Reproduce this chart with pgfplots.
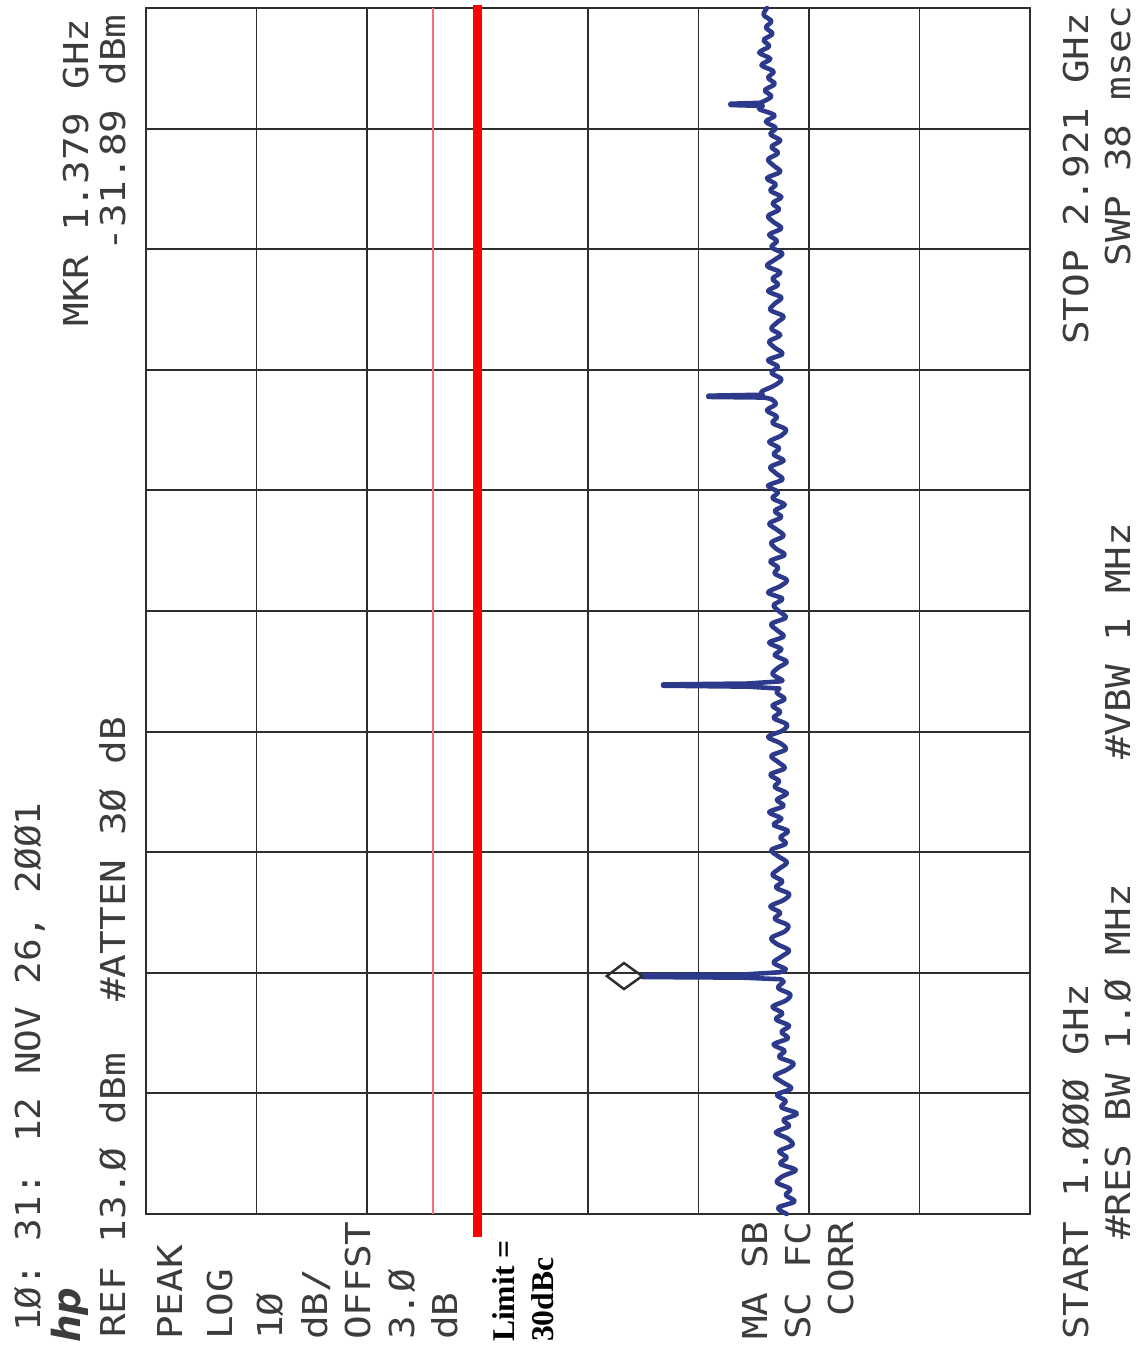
\documentclass[border=0pt]{standalone}
\usepackage{pgfplots}
\pgfplotsset{compat=1.18}
\usepackage{fontspec}
\setmainfont{DejaVu Sans}
\newfontfamily\scr[FakeStretch=1.15]{DejaVu Sans Mono}
\newfontfamily\scrn[FakeStretch=1.10]{DejaVu Sans Mono}
\newfontfamily\tnr{Liberation Serif}

\definecolor{gridc}{HTML}{2E2E2E}
\definecolor{inkc}{HTML}{3C3C3C}
\definecolor{tracec}{HTML}{2D3A8C}
\definecolor{dline}{HTML}{F07080}

\begin{document}
\begin{tikzpicture}
\useasboundingbox (0,0) rectangle (22.76cm,-26.92cm);
\begin{axis}[
  at={(2.92cm,-24.28cm)}, anchor=south west,
  width=17.68cm, height=24.12cm, scale only axis,
  xmin=-67, xmax=13, x dir=reverse,
  ymin=1.0, ymax=2.921,
  xtick={-67,-57,-47,-37,-27,-17,-7,3,13},
  ytick={1.0,1.1921,1.3842,1.5763,1.7684,1.9605,2.1526,2.3447,2.5368,2.7289,2.921},
  xticklabels={}, yticklabels={},
  major tick length=0pt,
  grid=major,
  major grid style={draw=gridc, line width=1.1pt},
  axis line style={draw=gridc, line width=1.5pt},
  clip=false,
  trace/.style={tracec, line width=2.6pt, line join=round, line cap=round},
]
  % display line
  \addplot[dline, line width=1.1pt] coordinates {(-13,1.0) (-13,2.921)};
  % limit line, 30 dB below reference
  \addplot[red, line width=4.6pt] coordinates {(-17,0.963) (-17,2.926)};
  % trace: noise segments
  \addplot[trace, smooth, tension=0.55] coordinates {
    (-45.0,1.00) (-44.2,1.01) (-45.7,1.02) (-44.9,1.03) (-45.3,1.04)
    (-44.1,1.05) (-44.6,1.06) (-45.8,1.07) (-44.4,1.08) (-45.0,1.09)
    (-44.3,1.10) (-45.5,1.11) (-45.1,1.12) (-44.0,1.13) (-45.2,1.14)
    (-44.7,1.15) (-45.9,1.16) (-44.5,1.17) (-44.9,1.18) (-44.1,1.19)
    (-45.4,1.20) (-44.6,1.21) (-43.9,1.22) (-45.0,1.23) (-45.6,1.24)
    (-44.3,1.25) (-44.8,1.26) (-43.8,1.27) (-45.1,1.28) (-44.5,1.29)
    (-45.2,1.30) (-44.0,1.31) (-44.6,1.32) (-43.7,1.33) (-44.9,1.34)
    (-45.3,1.35) (-44.2,1.36) (-44.7,1.37) (-44.4,1.374)
  };
  \addplot[trace, smooth, tension=0.55] coordinates {
    (-44.3,1.385) (-44.9,1.39) (-43.8,1.40) (-44.5,1.41) (-45.2,1.42)
    (-44.1,1.43) (-43.6,1.44) (-44.8,1.45) (-45.1,1.46) (-43.9,1.47)
    (-44.4,1.48) (-43.5,1.49) (-44.7,1.50) (-45.2,1.51) (-44.0,1.52)
    (-44.6,1.53) (-43.7,1.54) (-44.3,1.55) (-45.0,1.56) (-44.2,1.57)
    (-43.6,1.58) (-44.9,1.59) (-44.4,1.60) (-45.1,1.61) (-43.8,1.62)
    (-44.5,1.63) (-43.4,1.64) (-44.7,1.65) (-44.1,1.66) (-45.0,1.67)
    (-43.9,1.68) (-44.3,1.69) (-43.5,1.70) (-44.8,1.71) (-44.2,1.72)
    (-43.6,1.73) (-44.9,1.74) (-44.4,1.75) (-43.3,1.76) (-44.6,1.77)
    (-45.0,1.78) (-43.8,1.79) (-44.4,1.80) (-43.7,1.81) (-44.8,1.82)
    (-44.1,1.83) (-44.3,1.837)
  };
  \addplot[trace, smooth, tension=0.55] coordinates {
    (-44.0,1.848) (-44.6,1.85) (-43.7,1.86) (-44.2,1.87) (-45.0,1.88)
    (-43.9,1.89) (-44.5,1.90) (-43.4,1.91) (-44.7,1.92) (-44.1,1.93)
    (-43.6,1.94) (-44.9,1.95) (-44.3,1.96) (-43.8,1.97) (-44.6,1.98)
    (-43.3,1.99) (-44.4,2.00) (-45.0,2.01) (-43.9,2.02) (-44.2,2.03)
    (-43.5,2.04) (-44.8,2.05) (-44.0,2.06) (-43.6,2.07) (-44.7,2.08)
    (-44.1,2.09) (-43.4,2.10) (-44.5,2.11) (-43.9,2.12) (-44.8,2.13)
    (-43.7,2.14) (-44.2,2.15) (-43.3,2.16) (-44.6,2.17) (-44.0,2.18)
    (-43.5,2.19) (-44.7,2.20) (-43.8,2.21) (-44.3,2.22) (-43.4,2.23)
    (-44.5,2.24) (-44.9,2.25) (-43.7,2.26) (-44.1,2.27) (-43.2,2.28)
    (-44.0,2.29) (-43.6,2.298)
  };
  \addplot[trace, smooth, tension=0.55] coordinates {
    (-42.8,2.305) (-42.7,2.31) (-43.9,2.32) (-44.5,2.33) (-43.6,2.34)
    (-44.2,2.35) (-43.3,2.36) (-44.6,2.37) (-43.9,2.38) (-43.4,2.39)
    (-44.4,2.40) (-43.6,2.41) (-44.1,2.42) (-44.7,2.43) (-43.5,2.44)
    (-43.9,2.45) (-44.5,2.46) (-43.3,2.47) (-44.2,2.48) (-43.7,2.49)
    (-44.4,2.50) (-43.2,2.51) (-43.9,2.52) (-44.6,2.53) (-43.6,2.54)
    (-44.1,2.55) (-43.4,2.56) (-44.5,2.57) (-43.8,2.58) (-43.3,2.59)
    (-44.3,2.60) (-43.7,2.61) (-44.5,2.62) (-43.5,2.63) (-44.0,2.64)
    (-43.2,2.65) (-44.4,2.66) (-43.8,2.67) (-43.3,2.68) (-44.2,2.69)
    (-43.6,2.70) (-44.4,2.71) (-43.5,2.72) (-44.0,2.73) (-43.1,2.74)
    (-43.9,2.75) (-42.5,2.76) (-42.8,2.765)
  };
  \addplot[trace, smooth, tension=0.55] coordinates {
    (-42.6,2.770) (-43.6,2.78) (-43.0,2.79) (-43.9,2.80) (-43.3,2.81)
    (-43.8,2.82) (-42.7,2.83) (-43.5,2.84) (-42.5,2.85) (-43.4,2.86)
    (-42.9,2.87) (-43.7,2.88) (-43.1,2.89) (-43.6,2.90) (-42.9,2.91)
    (-43.2,2.921)
  };
  % trace: spurious responses
  \addplot[trace] coordinates {
    (-44.4,1.374) (-41.0,1.3765) (-31.9,1.3775) (-31.9,1.3805) (-41.0,1.3815) (-44.3,1.385)
  };
  \addplot[trace] coordinates {
    (-44.3,1.837) (-41.5,1.8400) (-33.8,1.8415) (-33.8,1.8435) (-41.5,1.8450) (-44.0,1.848)
  };
  \addplot[trace] coordinates {
    (-43.6,2.298) (-43.0,2.3005) (-37.9,2.3015) (-37.9,2.3035) (-42.8,2.305)
  };
  \addplot[trace] coordinates {
    (-42.8,2.765) (-39.9,2.7665) (-39.9,2.7685) (-42.6,2.770)
  };
  % marker diamond
  \addplot[gridc, line width=1.4pt] coordinates {
    (-31.9,1.379) (-30.26,1.3997) (-28.7,1.379) (-30.26,1.3583) (-31.9,1.379)
  };
\end{axis}
\begin{scope}[x=0.02cm, y=-0.02cm,
  every node/.style={rotate=90, anchor=base west, inner sep=0pt, text=inkc,
    font=\scr\fontsize{19.5}{22}\selectfont}]
  \node[font=\scrn\fontsize{19.5}{22}\selectfont] at (40,1332) {1Ø: 31: 12 NOV 26, 2ØØ1};
  \node[font=\bfseries\itshape\fontsize{22}{24}\selectfont] at (80,1343) {hp};
  \node at (125,1338) {REF 13.Ø dBm};
  \node at (125,1002) {\#ATTEN 3Ø dB};
  \node at (88,327) {MKR 1.379 GHz};
  \node at (125,252) {-31.89 dBm};
  \node at (182,1340) {PEAK};
  \node at (232,1340) {LOG};
  \node at (282,1340) {1Ø};
  \node at (327,1340) {dB/};
  \node at (370,1340) {OFFST};
  \node at (414,1340) {3.Ø};
  \node at (457,1340) {dB};
  \node[text=black, font=\tnr\bfseries\fontsize{18}{20}\selectfont] at (514,1342) {Limit =};
  \node[text=black, font=\tnr\bfseries\fontsize{18}{20}\selectfont] at (553,1342) {30dBc};
  \node at (767,1340) {MA SB};
  \node at (810,1340) {SC FC};
  \node at (853,1340) {\phantom{C}CORR};
  \node at (1088,1340) {START 1.ØØØ GHz};
  \node at (1130,1240) {\#RES BW 1.Ø MHz};
  \node at (1130,760) {\#VBW 1 MHz};
  \node at (1088,345) {STOP 2.921 GHz};
  \node at (1130,267) {SWP 38 msec};
\end{scope}
\end{tikzpicture}
\end{document}
